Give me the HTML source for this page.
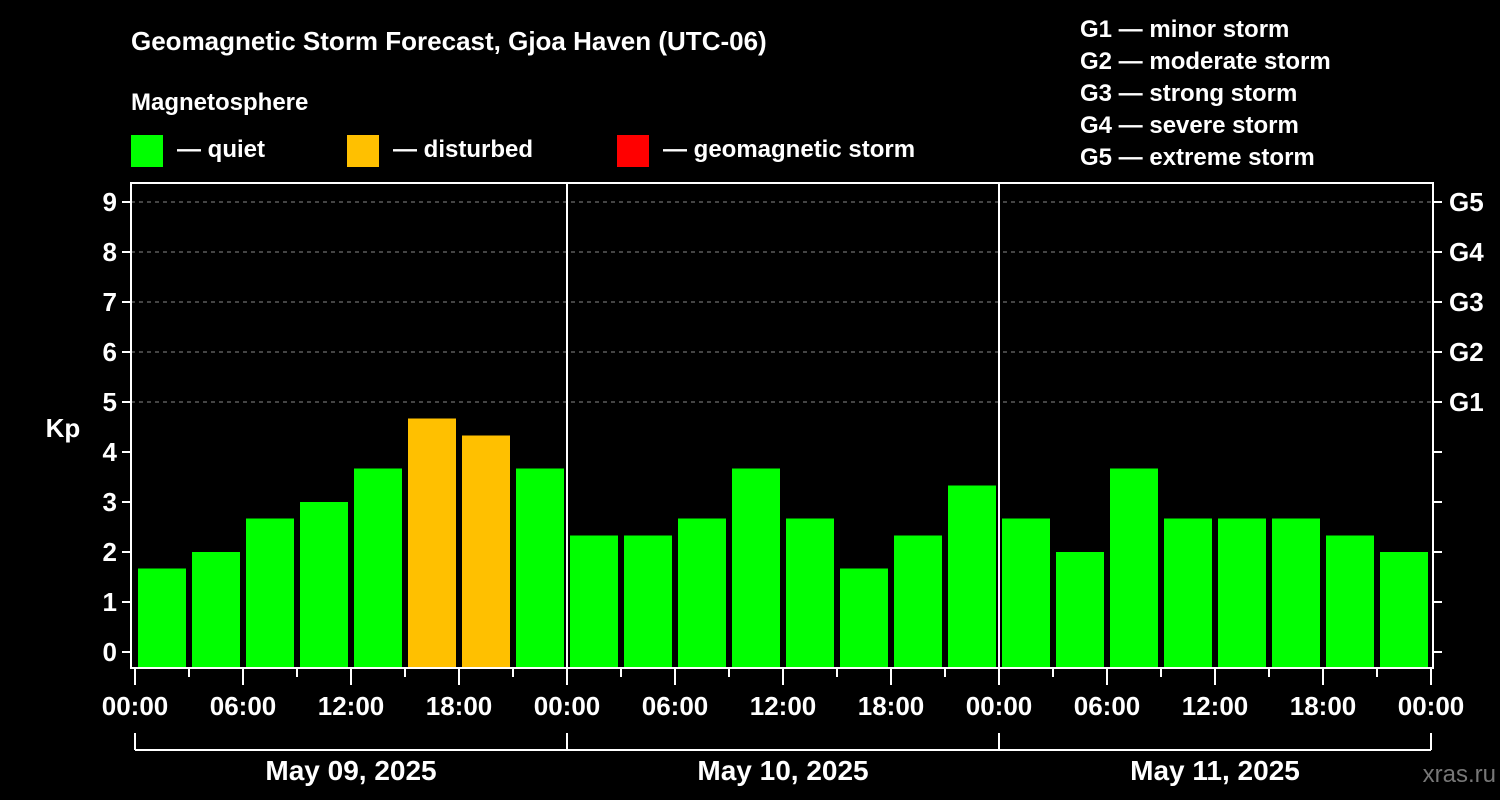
<!DOCTYPE html>
<html><head><meta charset="utf-8"><style>
body{margin:0;background:#000;width:1500px;height:800px;overflow:hidden}
svg{display:block;font-family:"Liberation Sans",Arial,sans-serif;font-weight:bold}
</style></head><body>
<svg id="c" width="1500" height="800">
<rect width="1500" height="800" fill="#000"/>
<text x="131" y="50" fill="#fff" font-size="26">Geomagnetic Storm Forecast, Gjoa Haven (UTC-06)</text>
<text x="131" y="110" fill="#fff" font-size="24">Magnetosphere</text>
<g><rect x="131" y="135" width="32" height="32" fill="#00ff00"/><text x="177" y="157" fill="#fff" font-size="24">— quiet</text></g>
<g><rect x="347" y="135" width="32" height="32" fill="#ffc000"/><text x="393" y="157" fill="#fff" font-size="24">— disturbed</text></g>
<g><rect x="617" y="135" width="32" height="32" fill="#ff0000"/><text x="663" y="157" fill="#fff" font-size="24">— geomagnetic storm</text></g>
<g fill="#fff" font-size="24">
<text x="1080" y="37">G1 — minor storm</text><text x="1080" y="69">G2 — moderate storm</text><text x="1080" y="101">G3 — strong storm</text><text x="1080" y="133">G4 — severe storm</text><text x="1080" y="165">G5 — extreme storm</text>
</g>
<text x="63" y="437" fill="#fff" font-size="26" text-anchor="middle">Kp</text>
<text x="1496" y="782" fill="#777" font-size="24" text-anchor="end" font-weight="normal">xras.ru</text>
<g id="plot"></g>
</svg>
<script>
const kpValues=[1.67,2,2.67,3,3.67,4.67,4.33,3.67, 2.33,2.33,2.67,3.67,2.67,1.67,2.33,3.33, 2.67,2,3.67,2.67,2.67,2.67,2.33,2];
const dayLabels=["May 09, 2025","May 10, 2025","May 11, 2025"];
const timeLabels=["00:00","06:00","12:00","18:00"];
const gLabels=["G1","G2","G3","G4","G5"];
const NS="http://www.w3.org/2000/svg";
const g=document.getElementById('plot');
const L=131,R=1433,T=183,B=668,X0=135,SLOT=54;
const y=v=>652-50*v;
const x=i=>X0+i*SLOT;
function mk(t,a,p){const e=document.createElementNS(NS,t);for(const k in a)e.setAttribute(k,a[k]);(p||g).appendChild(e);return e;}
for(let k=0;k<=9;k++){
  if(k>=5){const gl=mk('line',{x1:L,x2:R,y1:y(k),y2:y(k),stroke:'#888','stroke-dasharray':'4,4','stroke-width':1});
  
  }
  mk('line',{x1:L-9,x2:L,y1:y(k),y2:y(k),stroke:'#fff','stroke-width':2});
  mk('line',{x1:R,x2:R+9,y1:y(k),y2:y(k),stroke:'#fff','stroke-width':2});
  const t=mk('text',{x:L-14,y:y(k)+9,fill:'#fff','font-size':26,'text-anchor':'end'});t.textContent=k;
  
  
}
gLabels.forEach((s,i)=>{const t=mk('text',{x:1449,y:y(5+i)+9,fill:'#fff','font-size':26});t.textContent=s;
  
  });
kpValues.forEach((v,i)=>{
  const col=v>=5?'#ff0000':(v>=4?'#ffc000':'#00ff00');
  const r=mk('rect',{x:x(i)+3,y:y(v),width:48,height:B-y(v),fill:col});
  
  
});
mk('rect',{x:L,y:T,width:R-L,height:B-T,fill:'none',stroke:'#fff','stroke-width':2});
for(let d=1;d<3;d++) mk('line',{x1:x(d*8),x2:x(d*8),y1:T,y2:B,stroke:'#fff','stroke-width':2});
for(let i=0;i<=24;i++){
  const maj=i%2==0;
  mk('line',{x1:x(i),x2:x(i),y1:B,y2:B+(maj?17:9),stroke:'#fff','stroke-width':2});
  if(maj){const t=mk('text',{x:x(i),y:715,fill:'#fff','font-size':26,'text-anchor':'middle'});t.textContent=timeLabels[(i/2)%4];
  
  }
}
mk('line',{x1:x(0),x2:x(24),y1:750,y2:750,stroke:'#fff','stroke-width':2});
for(let d=0;d<=3;d++) mk('line',{x1:x(d*8),x2:x(d*8),y1:733,y2:750,stroke:'#fff','stroke-width':2});
dayLabels.forEach((s,d)=>{const t=mk('text',{x:x(d*8+4),y:780,fill:'#fff','font-size':28,'text-anchor':'middle'});t.textContent=s;
  
  });
</script>
</body></html>
